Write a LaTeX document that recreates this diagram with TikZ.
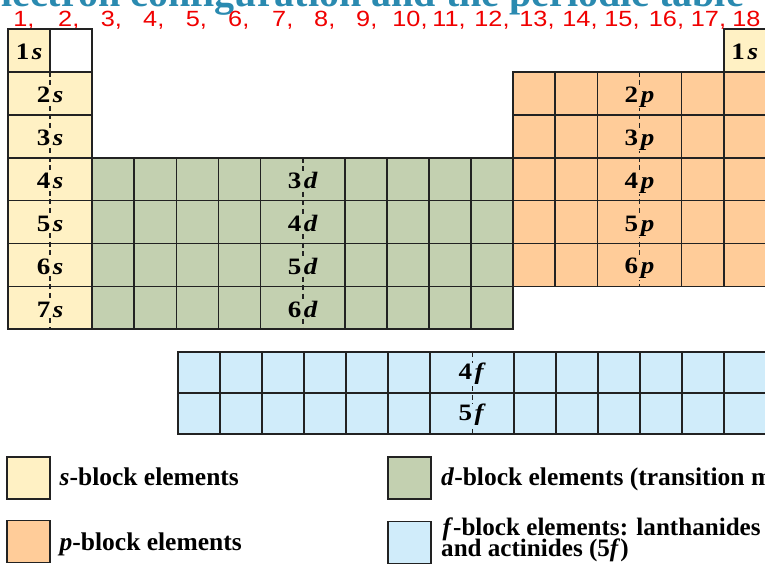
\documentclass[tikz,border=0pt]{standalone}
\usepackage{fontspec}
\setmainfont{Liberation Serif}
\newfontfamily\hdrfont[FakeStretch=1.15]{Liberation Sans}
\newfontfamily\labfont[FakeStretch=1.15]{Liberation Serif}
\definecolor{sfill}{HTML}{FFF1C4}
\definecolor{pfill}{HTML}{FFCC99}
\definecolor{dfill}{HTML}{C3D0B0}
\definecolor{ffill}{HTML}{D0ECFA}
\definecolor{lineC}{HTML}{222222}
\definecolor{titleC}{HTML}{2A8AB0}
\definecolor{hdrred}{HTML}{F00000}
\def\cw{42.1}
\def\rh{42.9}
\def\fw{42}
\newcommand{\orb}[2]{#1\kern2.5pt\textit{#2}}
\begin{document}
\begin{tikzpicture}[x=1pt,y=-1pt,line join=miter,
  grid/.style={draw=lineC,line width=1.7pt},
  divline/.style={draw=lineC,line width=1.6pt,dash pattern=on 5pt off 3.5pt},
  lab/.style={font=\labfont\fontsize{23.5}{23.5}\selectfont\bfseries,inner sep=0.6pt,anchor=base},
  hdr/.style={font=\hdrfont\fontsize{22}{22}\selectfont,text=hdrred,anchor=base west,inner sep=0pt},
  titlestyle/.style={font=\fontsize{40}{40}\selectfont\bfseries,text=titleC,anchor=base west,inner sep=0pt},
  legbox/.style={draw=lineC,line width=1.7pt,minimum width=43pt,minimum height=42pt,inner sep=0pt},
  legtext/.style={font=\fontsize{25.5}{25.5}\selectfont\bfseries,anchor=base west,inner sep=0pt},
  legtextf/.style={font=\fontsize{25.1}{25.1}\selectfont\bfseries,anchor=base west,inner sep=0pt}]
\useasboundingbox (0,0) rectangle (765,568);
\clip (0,0) rectangle (765,568);
% title
\node[titlestyle] (title) at (1,6) {lectron configuration and the periodic table};
% header numbers
\foreach \c/\x in {1/13.2,2/58,3/100.7,4/143,5/185.7,6/228,7/272,8/314,9/356,10/392.2,11/432.2,12/474.2,13/519.2,14/562.2,15/604.2,16/648.7,17/690.7}
  \node[hdr] (h\c) at (\x,26) {\c,};
\node[hdr] (h18) at (732.2,26) {18};
% ---------- fills ----------
\fill[sfill] (8,29) rectangle ({8+\cw},{29+\rh});
\fill[white] ({8+\cw},29) rectangle ({8+2*\cw},{29+\rh});
\fill[sfill] (8,{29+\rh}) rectangle ({8+2*\cw},{29+7*\rh});
\fill[sfill] ({8+17*\cw},29) rectangle ({8+18*\cw},{29+\rh});
\fill[dfill] ({8+2*\cw},{29+3*\rh}) rectangle ({8+12*\cw},{29+7*\rh});
\fill[pfill] ({8+12*\cw},{29+\rh}) rectangle ({8+18*\cw},{29+6*\rh});
\fill[ffill] (178.3,352.3) rectangle ({178.3+14*\fw},434.3);
% ---------- dashed dividers ----------
\draw[divline] ({8+\cw},{29+\rh}) -- ({8+\cw},{29+7*\rh});
\draw[divline] ({8+7*\cw},{29+3*\rh}) -- ({8+7*\cw},{29+7*\rh});
\draw[divline] ({8+15*\cw},{29+\rh}) -- ({8+15*\cw},{29+6*\rh});
\draw[divline] ({178.3+7*\fw},352.3) -- ({178.3+7*\fw},434.3);
% ---------- solid lines ----------
% s-block
\foreach \r in {1,...,6}
  \draw[grid] (8,{29+\r*\rh}) -- ({8+2*\cw},{29+\r*\rh});
\draw[grid] ({8+\cw},29) -- ({8+\cw},{29+\rh});
\draw[grid] (8,29) rectangle ({8+2*\cw},{29+7*\rh});
\draw[grid] ({8+17*\cw},29) rectangle ({8+18*\cw},{29+\rh});
% d-block
\foreach \r in {4,5,6}
  \draw[grid] ({8+2*\cw},{29+\r*\rh}) -- ({8+12*\cw},{29+\r*\rh});
\foreach \c in {3,4,5,6,8,9,10,11}
  \draw[grid] ({8+\c*\cw},{29+3*\rh}) -- ({8+\c*\cw},{29+7*\rh});
\draw[grid] ({8+2*\cw},{29+3*\rh}) rectangle ({8+12*\cw},{29+7*\rh});
% p-block
\foreach \r in {2,...,5}
  \draw[grid] ({8+12*\cw},{29+\r*\rh}) -- ({8+18*\cw},{29+\r*\rh});
\foreach \c in {13,14,16,17}
  \draw[grid] ({8+\c*\cw},{29+\rh}) -- ({8+\c*\cw},{29+6*\rh});
\draw[grid] ({8+12*\cw},{29+\rh}) rectangle ({8+18*\cw},{29+6*\rh});
% f-block
\draw[grid] (178.3,393.3) -- ({178.3+14*\fw},393.3);
\foreach \c in {1,...,6,8,9,10,11,12,13}
  \draw[grid] ({178.3+\c*\fw},352.3) -- ({178.3+\c*\fw},434.3);
\draw[grid] (178.3,352.3) rectangle ({178.3+14*\fw},434.3);
% ---------- labels ----------
\node[lab] (s1a) at ({8+0.5*\cw},{29+0.5*\rh+9.5}) {\orb{1}{s}};
\node[lab] (s1b) at ({8+17.5*\cw},{29+0.5*\rh+9.5}) {\orb{1}{s}};
\foreach \n in {2,...,7}
  \node[lab,fill=sfill] (s\n) at ({8+\cw},{29+(\n-0.5)*\rh+9.5}) {\orb{\n}{s}};
\foreach \n/\r in {3/4,4/5,5/6,6/7}
  \node[lab,fill=dfill] (d\n) at ({8+7*\cw},{29+(\r-0.5)*\rh+9.5}) {\orb{\n}{d}};
\foreach \n in {2,...,6}
  \node[lab,fill=pfill] (p\n) at ({8+15*\cw},{29+(\n-0.5)*\rh+9}) {\orb{\n}{p}};
\node[lab,fill=ffill] (f4) at ({178.3+7*\fw},379.8) {\orb{4}{f}};
\node[lab,fill=ffill] (f5) at ({178.3+7*\fw},420.8) {\orb{5}{f}};
% ---------- legend ----------
\node[legbox,fill=sfill] (ls) at (28.5,478) {};
\node[legbox,fill=pfill] (lp) at (28.5,541.5) {};
\node[legbox,fill=dfill] (ld) at (409.5,478) {};
\node[legbox,fill=ffill] (lf) at (409.5,542.5) {};
\node[legtext] (ts) at (59.5,485.5) {\textit{s}-block elements};
\node[legtext] (tp) at (59.5,550.5) {\textit{p}-block elements};
\node[legtext] (td) at (441,485.5) {\textit{d}-block elements (transition m};
\node[legtextf] (tf1) at (442.5,535.5) {\textit{f}-block elements: lanthanides};
\node[legtextf] (tf2) at (441,556) {and actinides (5\textit{f})};
\end{tikzpicture}
\end{document}
